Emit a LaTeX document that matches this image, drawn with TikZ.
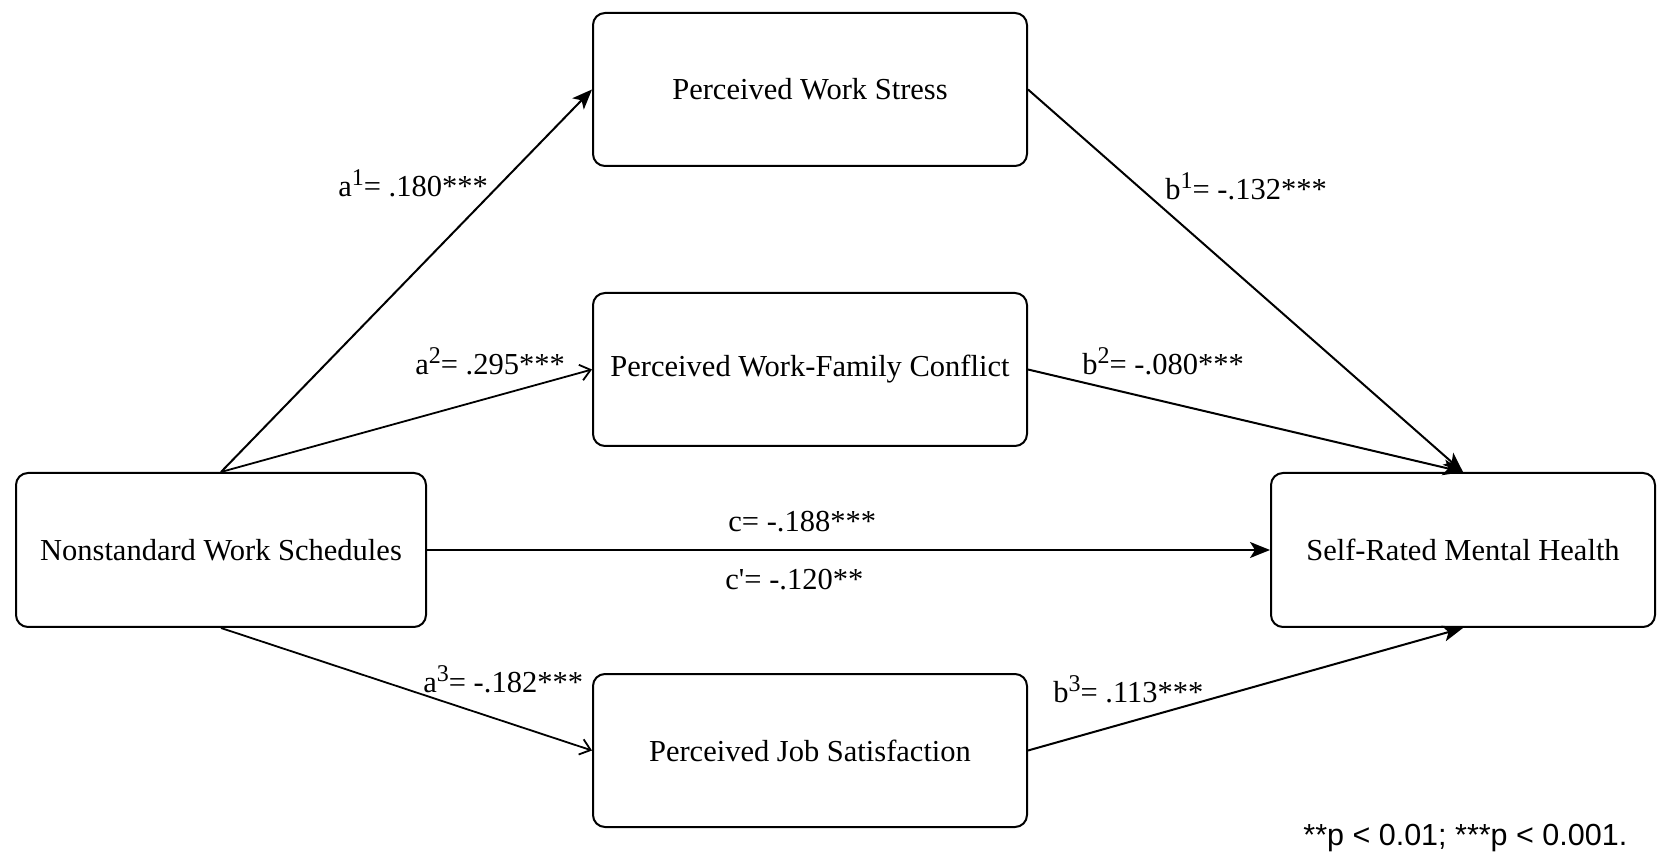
\documentclass[tikz,border=0pt]{standalone}
\usepackage{fontspec}
\setmainfont{Liberation Serif}
\newfontfamily\notefont{Liberation Sans}
\usetikzlibrary{arrows.meta}
\newcommand\supx[1]{\raisebox{5.5pt}{\fontsize{12}{14}\selectfont #1}}
\begin{document}
\begin{tikzpicture}[x=0.5pt,y=-0.5pt,
  box/.style={draw,line width=1pt,rounded corners=6pt,inner sep=0pt,align=center,
    font=\fontsize{15.25}{18}\selectfont},
  midbox/.style={box,minimum width=217pt,minimum height=76.5pt},
  lbl/.style={anchor=base west,inner sep=0pt,font=\fontsize{15.25}{18}\selectfont},
  conn/.style={line width=1pt,-{Stealth[length=10pt,width=8pt,inset=2.5pt]}},
  openarr/.style={line width=0.9pt,-{Straight Barb[length=5pt,width=8pt]}}]
\useasboundingbox (0,0) rectangle (1665,860);
\fill[white] (0,0) rectangle (1665,860);

\node[midbox] (pws) at (810,89.5) {Perceived Work Stress};
\node[midbox] (pwfc) at (810,369.5) {Perceived Work-Family Conflict};
\node[midbox] (pjs) at (810,750.5) {Perceived Job Satisfaction};
\node[box,minimum width=205pt,minimum height=77pt] (nws) at (221,550) {Nonstandard Work Schedules};
\node[box,minimum width=192pt,minimum height=77pt] (srmh) at (1463,550) {Self-Rated Mental Health};

\draw[conn] (nws.north) -- (pws.west);
\draw[openarr] (nws.north) -- (pwfc.west);
\draw[openarr] (nws.south) -- (pjs.west);
\draw[conn] (nws.east) -- (srmh.west);
\draw[conn] (pws.east) -- (srmh.north);
\draw[conn] (pwfc.east) -- (srmh.north);
\draw[conn] (pjs.east) -- (srmh.south);

\node[lbl] (la1) at (338,197) {a\supx{1}= .180***};
\node[lbl] (la2) at (415,375) {a\supx{2}= .295***};
\node[lbl] (la3) at (423,692) {a\supx{3}= -.182***};
\node[lbl] (lb1) at (1165,200) {b\supx{1}= -.132***};
\node[lbl] (lb2) at (1082,375) {b\supx{2}= -.080***};
\node[lbl] (lb3) at (1053,702) {b\supx{3}= .113***};
\node[lbl] (lc) at (728,532) {c= -.188***};
\node[lbl] (lcp) at (725,589) {c\textquotesingle= -.120**};
\node[lbl,font=\notefont\fontsize{15.25}{18}\selectfont] (note) at (1303,845) {**p < 0.01; ***p < 0.001.};
\end{tikzpicture}
\end{document}
